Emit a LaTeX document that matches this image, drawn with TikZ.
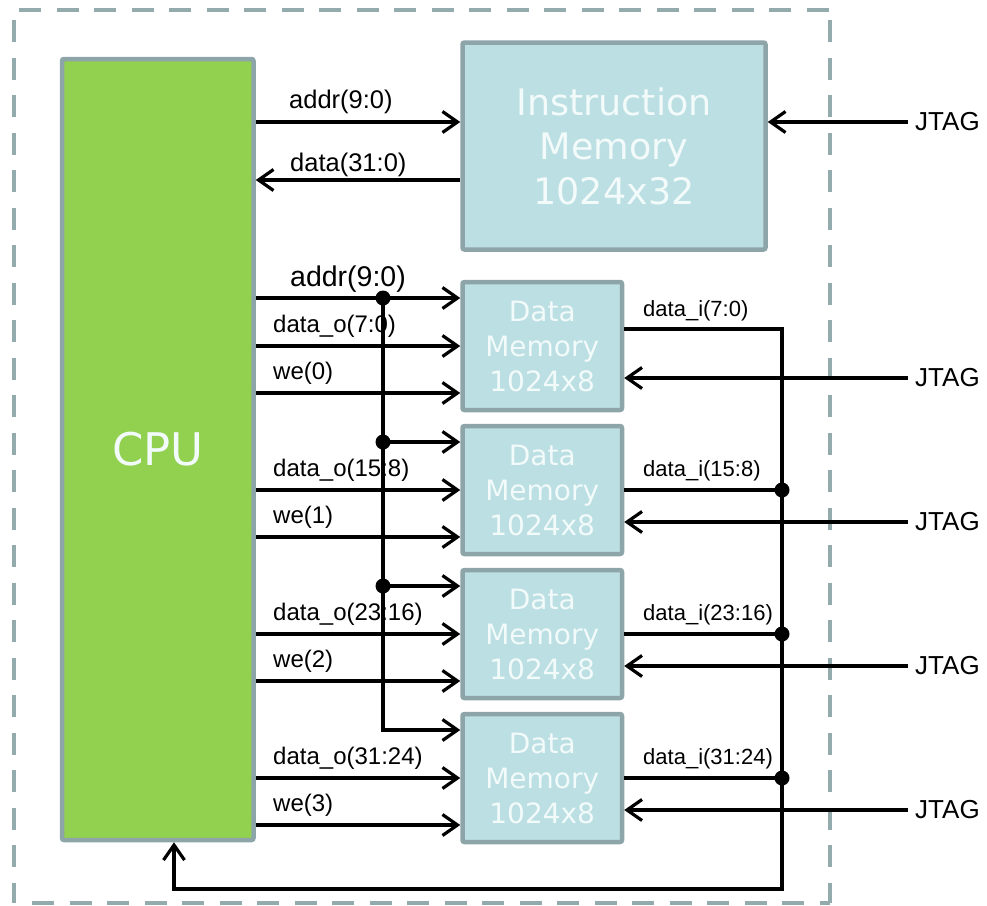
\documentclass[tikz,border=0pt]{standalone}
\usepackage{fontspec}
\setmainfont{Liberation Sans}
\newfontfamily\boxfont{DejaVu Sans}
\usetikzlibrary{arrows.meta}
\definecolor{cpugreen}{RGB}{146,208,80}
\definecolor{memblue}{RGB}{187,223,227}
\definecolor{edgegray}{RGB}{141,165,168}
\definecolor{framegray}{RGB}{147,171,173}
\definecolor{boxtext}{RGB}{242,250,250}

\begin{document}
\begin{tikzpicture}[x=1pt,y=-1pt,
  block/.style={draw=edgegray, line width=4.5pt, rounded corners=2pt,
    inner sep=0pt, text=boxtext, align=center},
  wire/.style={line width=3.2pt, draw=black},
  arr/.style={wire, -{Straight Barb[length=15pt,width=21pt]}},
  dot/.style={circle, fill=black, inner sep=0pt, minimum size=15pt},
  lbl/.style={anchor=base west, inner sep=0pt, font=\fontsize{24}{28}\selectfont},
  ilbl/.style={lbl, font=\fontsize{25.5}{30}\selectfont},
  albl/.style={lbl, font=\fontsize{28.5}{32}\selectfont},
  dilbl/.style={lbl, font=\fontsize{22}{26}\selectfont},
  jtag/.style={anchor=west, inner ysep=0pt, inner xsep=7pt,
    font=\fontsize{26}{30}\selectfont},
  frame/.style={draw=framegray, line width=4.5pt, dash pattern=on 22pt off 15.5pt}
]
\useasboundingbox (0,0) rectangle (987,905);

% dashed system boundary
\draw[frame] (19,10) -- (830,10);
\draw[frame] (14,20) -- (14,903);
\draw[frame] (830,20) -- (830,903);
\draw[frame] (32,903) -- (830,903);

% processor and memories
\node[block, fill=cpugreen, minimum width=191.5pt, minimum height=781pt,
  font=\boxfont\fontsize{45}{54}\selectfont] (cpu) at (157.75,449.5) {CPU};
\node[block, fill=memblue, minimum width=303pt, minimum height=207pt,
  font=\boxfont\fontsize{36.5}{44.5}\selectfont] (imem) at (614,146)
  {Instruction\\Memory\\1024x32};
\foreach \i/\cy in {1/346,2/490,3/634,4/778}{
  \node[block, fill=memblue, minimum width=159.5pt, minimum height=128pt,
    font=\boxfont\fontsize{28}{35}\selectfont] (dm\i) at (542.25,\cy)
    {Data\\Memory\\1024x8};
}

% instruction memory port
\draw[arr] (cpu.east |- 0,122) -- (imem.west |- 0,122);
\draw[arr] (imem.west |- 0,180) -- (cpu.east |- 0,180);
\node[ilbl] (laddr) at (289,108) {addr(9:0)};
\node[ilbl] (ldata) at (290,171) {data(31:0)};
\node[jtag] (j0) at (908,122) {JTAG};
\draw[arr] (j0.west) -- (imem.east |- j0.west);

% shared address bus for the data memories
\coordinate (b1) at (383,298);
\coordinate (b2) at (383,442);
\coordinate (b3) at (383,586);
\coordinate (b4) at (383,730);
\draw[arr] (cpu.east |- b1) -- (dm1.west |- b1);
\draw[arr] (b2) -- (dm2.west |- b2);
\draw[arr] (b3) -- (dm3.west |- b3);
\draw[arr] (b1) -- (b4) -- (dm4.west |- b4);
\node[dot] (d1) at (b1) {};
\node[dot] (d2) at (b2) {};
\node[dot] (d3) at (b3) {};
\node[albl] (laddr2) at (290,286) {addr(9:0)};

% write data and write enables
\foreach \i/\bits in {1/7:0,2/15:8,3/23:16,4/31:24}{
  \pgfmathsetmacro{\wy}{393+144*(\i-1)}
  \draw[arr] (cpu.east |- dm\i.west) -- (dm\i.west);
  \draw[arr] (cpu.east |- 0,\wy) -- (dm\i.west |- 0,\wy);
  \node[lbl] (ldo\i) at ([yshift=14pt]273,0 |- dm\i.west) {data\_o(\bits)};
}
\foreach \i in {1,2,3,4}{
  \pgfmathsetmacro{\wy}{379+144*(\i-1)}
  \pgfmathtruncatemacro{\n}{\i-1}
  \node[lbl] (lwe\i) at (273,\wy) {we(\n)};
}

% JTAG ports of the data memories
\foreach \i in {1,2,3,4}{
  \pgfmathsetmacro{\jy}{378+144*(\i-1)}
  \node[jtag] (j\i) at (908,\jy) {JTAG};
  \draw[arr] (j\i.west) -- (dm\i.east |- j\i.west);
}

% read data return path
\coordinate (r1) at (782,329);
\coordinate (rb) at (782,889);
\coordinate (fb) at (174,889);
\draw[arr] (dm1.east |- r1) -- (r1) -- (rb) -- (fb) -- (cpu.south -| fb);
\node[dilbl] (ldi1) at (643,316) {data\_i(7:0)};
\foreach \i/\bits in {2/15:8,3/23:16,4/31:24}{
  \draw[wire] (dm\i.east) -- (dm\i.east -| rb);
  \node[dot] (dr\i) at (dm\i.east -| rb) {};
  \node[dilbl] (ldi\i) at ([yshift=14pt]643,0 |- dm\i.east) {data\_i(\bits)};
}
\end{tikzpicture}
\end{document}
